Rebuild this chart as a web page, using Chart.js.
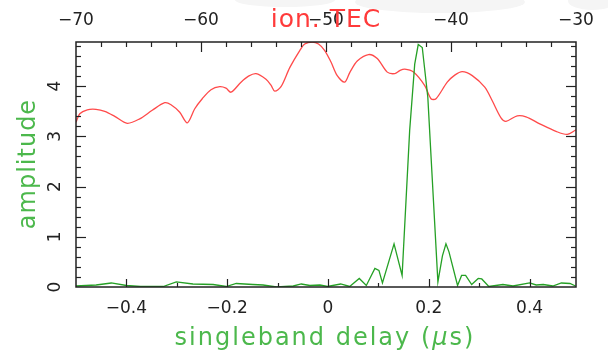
<!DOCTYPE html>
<html>
<head>
<meta charset="utf-8">
<script src="https://cdn.jsdelivr.net/npm/chart.js@4"></script>
<style>
  html, body { margin: 0; padding: 0; background: #fff; }
  #wrap { width: 608px; height: 358px; }
</style>
</head>
<body>
<div id="wrap"><canvas id="delayChart" width="608" height="358"></canvas></div>
<script>
// ion. TEC amplitude (red, top axis)
const tecValues = [-70.0, -69.7, -69.1, -68.4, -67.7, -66.9, -65.9, -64.9, -63.9, -62.9,
  -62.4, -61.7, -61.1, -60.5, -59.9, -59.2, -58.5, -58.0, -57.6, -56.8,
  -56.2, -55.6, -54.8, -54.4, -54.1, -53.6, -52.9, -52.1, -51.7, -51.1,
  -50.6, -50.1, -49.6, -49.1, -48.5, -48.1, -47.5, -46.6, -45.9, -45.1,
  -44.5, -44.1, -43.7, -43.0, -42.1, -41.6, -41.2, -40.3, -39.7, -39.1,
  -38.3, -37.3, -36.7, -36.0, -35.6, -34.7, -34.0, -32.9, -31.6, -30.7, -30.0];
const tecAmplitude = [3.28, 3.45, 3.53, 3.54, 3.50, 3.40, 3.26, 3.35, 3.52, 3.67,
  3.63, 3.48, 3.27, 3.55, 3.75, 3.93, 3.99, 3.96, 3.88, 4.08,
  4.20, 4.25, 4.14, 4.02, 3.90, 3.99, 4.37, 4.71, 4.84, 4.88,
  4.84, 4.71, 4.48, 4.21, 4.08, 4.27, 4.50, 4.63, 4.55, 4.28,
  4.25, 4.31, 4.34, 4.28, 4.01, 3.75, 3.75, 4.08, 4.22, 4.29,
  4.21, 3.98, 3.71, 3.37, 3.30, 3.41, 3.39, 3.25, 3.10, 3.04, 3.13];

// singleband delay amplitude (green, bottom axis)
const delayValues = [-0.500, -0.460, -0.430, -0.400, -0.372, -0.327, -0.301, -0.268, -0.228, -0.202,
  -0.182, -0.149, -0.129, -0.102, -0.069, -0.053, -0.036, -0.016, -0.001, 0.025,
  0.043, 0.062, 0.076, 0.093, 0.101, 0.108, 0.131, 0.147, 0.162, 0.172,
  0.179, 0.187, 0.198, 0.207, 0.218, 0.227, 0.234, 0.240, 0.257, 0.265,
  0.273, 0.285, 0.298, 0.305, 0.319, 0.347, 0.367, 0.400, 0.413, 0.427,
  0.446, 0.463, 0.480, 0.491];
const delayAmplitude = [0.02, 0.04, 0.08, 0.03, 0.01, 0.01, 0.10, 0.06, 0.05, 0.01,
  0.07, 0.05, 0.04, 0.00, 0.02, 0.06, 0.03, 0.04, 0.01, 0.06,
  0.01, 0.17, 0.03, 0.37, 0.33, 0.08, 0.86, 0.23, 3.12, 4.44,
  4.83, 4.77, 3.78, 2.12, 0.10, 0.62, 0.86, 0.70, 0.03, 0.23,
  0.23, 0.05, 0.17, 0.16, 0.01, 0.05, 0.02, 0.08, 0.04, 0.05,
  0.02, 0.08, 0.07, 0.02];

// tick labels
const delayTicks = [-0.4, -0.2, 0, 0.2, 0.4];
const tecTicks = [-70, -60, -50, -40, -30];
const ampTicks = [0, 1, 2, 3, 4];

const FONT = "'DejaVu Sans', sans-serif";
const minus = v => String(v).replace('-', '\u2212');

// PGPLOT-style box with inward ticks, rotated y labels, titles and the faint smudges at the top
const pgBox = {
  id: 'pgBox',
  beforeDraw(chart) {
    const ctx = chart.ctx;
    ctx.save();
    ctx.fillStyle = '#f5f5f5';
    [[285, 0, 50, 7], [440, 2, 85, 11], [592, 1, 24, 9]].forEach(([x, y, rx, ry]) => {
      ctx.beginPath();
      ctx.ellipse(x, y, rx, ry, 0, 0, Math.PI * 2);
      ctx.fill();
    });
    ctx.restore();
  },
  afterDatasetsDraw(chart) {
    const { ctx, chartArea: a, scales } = chart;
    ctx.save();
    ctx.strokeStyle = '#222';
    ctx.lineWidth = 1.5;
    ctx.strokeRect(a.left, a.top, a.right - a.left, a.bottom - a.top);

    ctx.lineWidth = 1.2;
    const seg = (x1, y1, x2, y2) => {
      ctx.beginPath(); ctx.moveTo(x1, y1); ctx.lineTo(x2, y2); ctx.stroke();
    };
    // bottom: every 0.1
    for (let i = -4; i <= 4; i++) {
      const px = Math.round(scales.x.getPixelForValue(i / 10)) + 0.5;
      seg(px, a.bottom, px, a.bottom - (i % 2 === 0 ? 8 : 4));
    }
    // top: every 2 TEC units
    for (let v = -68; v <= -32; v += 2) {
      const px = Math.round(scales.x2.getPixelForValue(v)) + 0.5;
      seg(px, a.top, px, a.top + (v % 10 === 0 ? 10 : 5));
    }
    // left and right: every 0.2
    for (let i = 1; i <= 24; i++) {
      const py = Math.round(scales.y.getPixelForValue(i / 5)) + 0.5;
      const len = i % 5 === 0 ? 10 : 5;
      seg(a.left, py, a.left + len, py);
      seg(a.right, py, a.right - len, py);
    }

    // y tick labels, rotated like the original
    ctx.fillStyle = '#222';
    ctx.font = '17px ' + FONT;
    ctx.textAlign = 'center';
    ctx.textBaseline = 'middle';
    ampTicks.forEach(v => {
      ctx.save();
      ctx.translate(a.left - 20, scales.y.getPixelForValue(v));
      ctx.rotate(-Math.PI / 2);
      ctx.fillText(minus(v), 0, 0);
      ctx.restore();
    });

    // title
    ctx.fillStyle = '#ff3a3a';
    ctx.font = '25px ' + FONT;
    ctx.textBaseline = 'alphabetic';
    ctx.letterSpacing = '1px';
    ctx.fillText('ion. TEC', 326, 27);

    // y title
    ctx.fillStyle = '#4cb84c';
    ctx.font = '24px ' + FONT;
    ctx.save();
    ctx.translate(35, 164);
    ctx.rotate(-Math.PI / 2);
    ctx.fillText('amplitude', 0, 0);
    ctx.restore();

    // x title, mu in italic
    ctx.letterSpacing = '2px';
    ctx.textAlign = 'left';
    const parts = [['singleband delay (', '24px ' + FONT], ['\u03bc', 'italic 24px ' + FONT], ['s)', '24px ' + FONT]];
    let total = 0;
    parts.forEach(p => { ctx.font = p[1]; total += ctx.measureText(p[0]).width; });
    let x = 325 - total / 2;
    parts.forEach(p => { ctx.font = p[1]; ctx.fillText(p[0], x, 345); x += ctx.measureText(p[0]).width; });
    ctx.restore();
  }
};

const tickFont = { family: FONT, size: 17 };

const ctx = document.getElementById('delayChart').getContext('2d');
const chart = new Chart(ctx, {
  type: 'line',
  data: {
    datasets: [
      {
        label: 'delay',
        data: delayValues.map((v, i) => ({ x: v, y: delayAmplitude[i] })),
        xAxisID: 'x',
        yAxisID: 'y',
        borderColor: '#25a025',
        borderWidth: 1.3,
        pointRadius: 0,
        tension: 0
      },
      {
        label: 'ion. TEC',
        data: tecValues.map((v, i) => ({ x: v, y: tecAmplitude[i] })),
        xAxisID: 'x2',
        yAxisID: 'y',
        borderColor: '#ff4a4a',
        borderWidth: 1.3,
        pointRadius: 0,
        tension: 0.3
      }
    ]
  },
  options: {
    responsive: false,
    animation: false,
    devicePixelRatio: 1,
    layout: { padding: { left: 0, right: 32, top: 0, bottom: 0 } },
    plugins: { legend: { display: false }, tooltip: { enabled: false } },
    scales: {
      x: {
        type: 'linear',
        position: 'bottom',
        min: -0.5,
        max: 0.492,
        grid: { display: false, drawTicks: false },
        border: { display: false },
        afterBuildTicks: s => { s.ticks = delayTicks.map(v => ({ value: v })); },
        afterFit: s => { s.height = 71; },
        ticks: {
          autoSkip: false, maxRotation: 0, padding: 11,
          color: '#222', font: tickFont,
          callback: v => minus(v)
        }
      },
      x2: {
        type: 'linear',
        position: 'top',
        min: -70,
        max: -30,
        grid: { display: false, drawTicks: false },
        border: { display: false },
        afterBuildTicks: s => { s.ticks = tecTicks.map(v => ({ value: v })); },
        afterFit: s => { s.height = 42; },
        ticks: {
          autoSkip: false, maxRotation: 0, padding: 11,
          color: '#222', font: tickFont,
          callback: v => minus(v)
        }
      },
      y: {
        type: 'linear',
        position: 'left',
        min: 0,
        max: 4.88,
        grid: { display: false, drawTicks: false },
        border: { display: false },
        afterBuildTicks: s => { s.ticks = ampTicks.map(v => ({ value: v })); },
        afterFit: s => { s.width = 76; },
        ticks: { display: false }
      }
    }
  },
  plugins: [pgBox]
});
</script>
</body>
</html>
